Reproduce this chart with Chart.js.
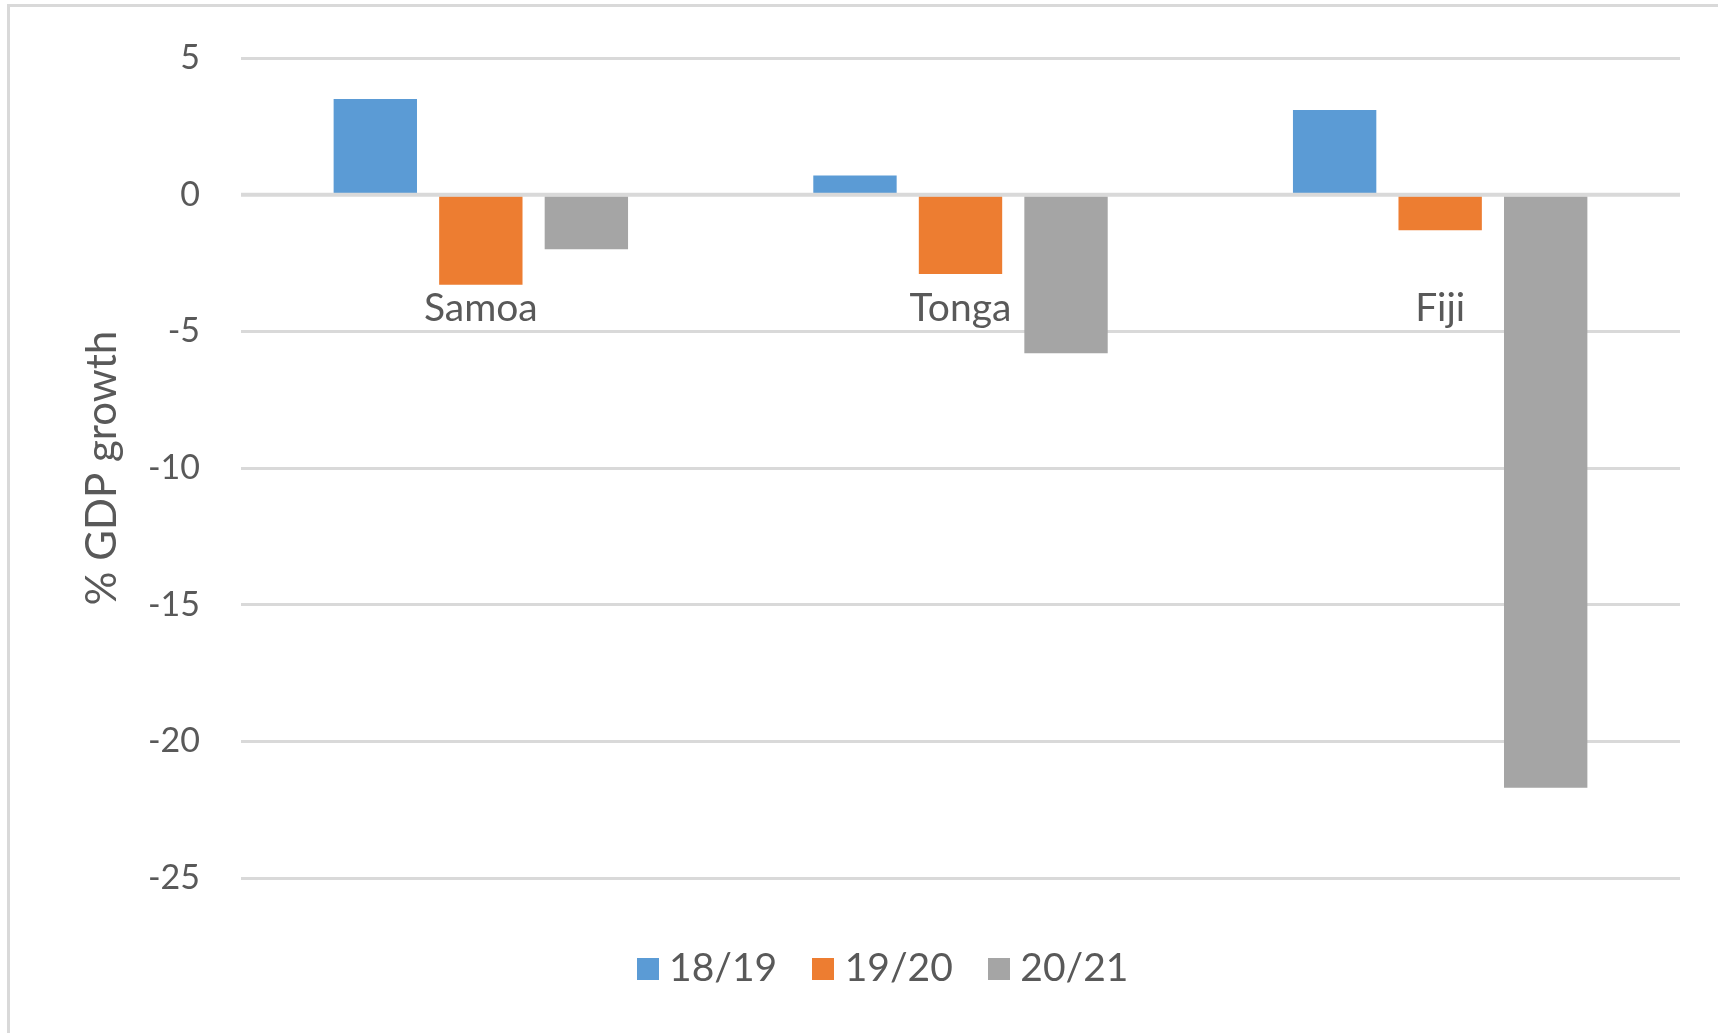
<!DOCTYPE html>
<html><head><meta charset="utf-8">
<script src="https://cdn.jsdelivr.net/npm/chart.js@4"></script>
<style>
html,body{margin:0;padding:0;background:#fff;overflow:hidden;width:1718px;height:1033px;}
#frame{position:absolute;left:7px;top:4px;width:2000px;height:2000px;border:3px solid #d9d9d9;box-sizing:border-box;}
#wrap{position:absolute;left:0;top:0;width:1718px;height:1033px;}
</style></head><body>
<div id="frame"></div>
<div id="wrap"><canvas id="c"></canvas></div>
<script>
const categories = ['Samoa', 'Tonga', 'Fiji'];
const seriesLabels = ['18/19', '19/20', '20/21'];
const values1819 = [3.5, 0.7, 3.1];
const values1920 = [-3.3, -2.9, -1.3];
const values2021 = [-2.0, -5.8, -21.7];
const yTicks = [5, 0, -5, -10, -15, -20, -25];
const yTitle = '% GDP growth';

const colors = ['#5B9BD5', '#ED7D31', '#A5A5A5'];
const textColor = '#595959';
const fontFamily = "Lato, 'Open Sans', sans-serif";
const labelOffset = 114;
const swatchSize = 22;

function makeSwatch(color) {
  const cv = document.createElement('canvas');
  cv.width = swatchSize; cv.height = swatchSize;
  const g = cv.getContext('2d');
  g.fillStyle = color;
  g.fillRect(0, 0, swatchSize, swatchSize);
  return cv;
}
const swatches = colors.map(makeSwatch);

const zeroLinePlugin = {
  id: 'zeroLine',
  afterDatasetsDraw(chart) {
    const {ctx, chartArea, scales} = chart;
    const y0 = scales.y.getPixelForValue(0);
    ctx.save();
    ctx.strokeStyle = '#D9D9D9';
    ctx.lineWidth = 4;
    ctx.beginPath();
    ctx.moveTo(chartArea.left, y0);
    ctx.lineTo(chartArea.right, y0);
    ctx.stroke();
    ctx.restore();
  }
};

const categoryLabelPlugin = {
  id: 'catLabels',
  afterDatasetsDraw(chart) {
    const {ctx, scales} = chart;
    const y0 = scales.y.getPixelForValue(0);
    ctx.save();
    ctx.fillStyle = textColor;
    ctx.font = '39px ' + fontFamily;
    ctx.textAlign = 'center';
    ctx.textBaseline = 'middle';
    categories.forEach((c, i) => {
      ctx.fillText(c, scales.x.getPixelForValue(i), y0 + labelOffset);
    });
    ctx.restore();
  }
};

const seriesValues = [values1819, values1920, values2021];

new Chart(document.getElementById('c'), {
  type: 'bar',
  data: {
    labels: categories,
    datasets: seriesLabels.map((l, i) => ({
      label: l,
      data: seriesValues[i],
      backgroundColor: colors[i],
      borderWidth: 0,
      categoryPercentage: 0.66,
      barPercentage: 0.79
    }))
  },
  options: {
    responsive: true,
    maintainAspectRatio: false,
    animation: false,
    devicePixelRatio: 1,
    layout: {padding: {left: 94, right: 38, top: 58, bottom: 35}},
    plugins: {
      tooltip: {enabled: false},
      legend: {
        position: 'bottom',
        labels: {
          color: textColor,
          font: {family: fontFamily, size: 39},
          usePointStyle: true,
          boxWidth: 4,
          boxHeight: 22,
          padding: 44,
          generateLabels(chart) {
            const items = Chart.defaults.plugins.legend.labels.generateLabels(chart);
            items.forEach((it, i) => { it.pointStyle = swatches[i]; });
            return items;
          }
        }
      }
    },
    scales: {
      x: {
        display: true,
        grid: {display: false},
        border: {display: false},
        ticks: {display: false},
        afterFit: s => { s.height = 27; }
      },
      y: {
        min: yTicks[yTicks.length - 1],
        max: yTicks[0],
        afterBuildTicks: s => { s.ticks = yTicks.map(v => ({value: v})); },
        grid: {color: '#D9D9D9', lineWidth: 3, drawTicks: true, tickLength: 38, tickColor: 'rgba(0,0,0,0)'},
        border: {display: false},
        ticks: {color: textColor, font: {family: fontFamily, size: 34}, padding: 3},
        title: {display: true, text: yTitle, color: textColor, font: {family: fontFamily, size: 42}, padding: {top: -17, bottom: 0}},
        afterFit: s => { s.width = 147; }
      }
    }
  },
  plugins: [zeroLinePlugin, categoryLabelPlugin]
});
</script>
</body></html>
